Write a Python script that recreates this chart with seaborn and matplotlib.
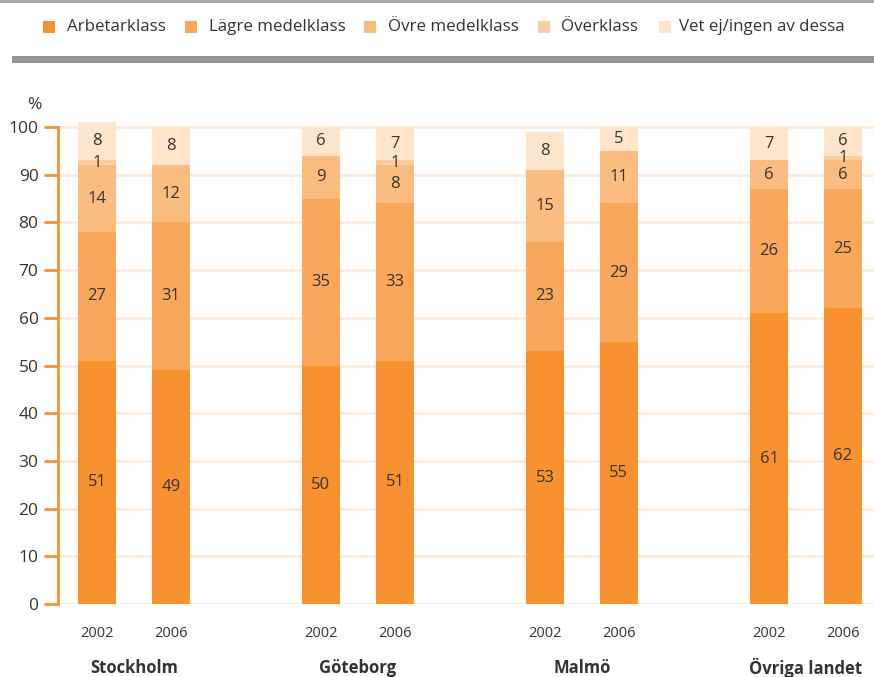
import numpy as np
import pandas as pd
import matplotlib
matplotlib.use("Agg")
import matplotlib.pyplot as plt
from matplotlib.patches import Rectangle
import seaborn as sns

# --- data -------------------------------------------------------------
regions = ["Stockholm", "Göteborg", "Malmö", "Övriga landet"]
years = ["2002", "2006"]
classes = ["Arbetarklass", "Lägre medelklass", "Övre medelklass",
           "Överklass", "Vet ej/ingen av dessa"]

# one list per class, ordered Stockholm 02/06, Göteborg 02/06, Malmö 02/06, Övriga 02/06
arbetarklass = [51, 49, 50, 51, 53, 55, 61, 62]
lagre_medel = [27, 31, 35, 33, 23, 29, 26, 25]
ovre_medel = [14, 12, 9, 8, 15, 11, 6, 6]
overklass = [1, 0, 0, 1, 0, 0, 0, 1]
vet_ej = [8, 8, 6, 7, 8, 5, 7, 6]

series = [arbetarklass, lagre_medel, ovre_medel, overklass, vet_ej]
colors = ["#F7922E", "#F9A75A", "#FBBC80", "#FCCD9D", "#FEE5CC"]
grid_color = "#FDEBDC"
axis_orange = "#F7922E"
text_color = "#333333"

W, H = 874, 677

# --- layout of bars ---------------------------------------------------
group_step = 3.03
pos = []
for g in range(len(regions)):
    for k in range(len(years)):
        pos.append(g * group_step + k)
pos = np.array(pos)

vals = np.array(series, dtype=float)
cum = np.cumsum(vals, axis=0)

sns.set_theme(style="white")
plt.rcParams["font.family"] = ["Open Sans", "DejaVu Sans"]

fig = plt.figure(figsize=(W / 100, H / 100), dpi=100)
ax = fig.add_axes([58 / W, (H - 604) / H, 1 - 58 / W, (604 - 117.5) / H])

# gridlines behind bars
for yv in range(0, 101, 10):
    ax.axhline(yv, color=grid_color, lw=2, zorder=0)

# stacked bars: draw cumulative heights from the top layer downward
for i in range(len(classes) - 1, -1, -1):
    df = pd.DataFrame({"x": pos, "y": cum[i]})
    sns.barplot(data=df, x="x", y="y", native_scale=True, color=colors[i],
                saturation=1, width=0.51, errorbar=None, ax=ax,
                linewidth=0, zorder=2)

# value labels in the middle of each segment
for i in range(len(classes)):
    for j in range(len(pos)):
        v = vals[i, j]
        if v <= 0:
            continue
        mid = cum[i, j] - v / 2
        ax.text(pos[j], mid, f"{int(v)}", ha="center", va="center",
                fontsize=12, color=text_color, zorder=3)

ax.set_xlim(-0.527, pos[-1] + 0.42)
ax.set_ylim(0, 102)
ax.set_xlabel("")
ax.set_ylabel("")

for s in ["top", "right", "bottom"]:
    ax.spines[s].set_visible(False)
ax.spines["left"].set_color(axis_orange)
ax.spines["left"].set_linewidth(2)
ax.spines["left"].set_bounds(0, 100)

ax.set_yticks(range(0, 101, 10))
ax.set_yticklabels([str(v) for v in range(0, 101, 10)], fontsize=12.5,
                   color=text_color)
ax.tick_params(axis="y", length=10, width=2, color=axis_orange,
               direction="out", pad=4, left=True)
ax.set_xticks(pos)
ax.set_xticklabels([years[k % 2] for k in range(len(pos))], fontsize=10.5,
                   color=text_color)
ax.tick_params(axis="x", length=0, pad=16)

# region names under each pair of years
for g, name in enumerate(regions):
    xc = (pos[2 * g] + pos[2 * g + 1]) / 2
    ax.text(xc, -13.5, name, ha="center", va="center", fontsize=12,
            fontweight="bold", color=text_color, transform=ax.transData,
            clip_on=False)

fig.text(34 / W, 1 - 105 / H, "%", ha="center", va="center",
         fontsize=12.5, color=text_color)

# header rules
fig.add_artist(Rectangle((0, 1 - 2.5 / H), 1, 2.5 / H,
                         transform=fig.transFigure, color="#A7A9AC", lw=0))
fig.add_artist(Rectangle((12 / W, 1 - 63 / H), 1 - 12 / W, 7 / H,
                         transform=fig.transFigure, color="#939598", lw=0))

# legend row: colour square followed by its label
legend_sq_x = [43, 185, 364, 538, 659]
legend_tx_x = [67, 209, 388, 561, 679]
legend_y = 27
sq = 12
for c, lab, sx, tx in zip(colors, classes, legend_sq_x, legend_tx_x):
    fig.add_artist(Rectangle((sx / W, 1 - (legend_y + sq / 2) / H), sq / W, sq / H,
                             transform=fig.transFigure, color=c, lw=0))
    fig.text(tx / W, 1 - legend_y / H, lab, ha="left", va="center",
             fontsize=12.2, color=text_color)

fig.savefig("out.png", dpi=100)
